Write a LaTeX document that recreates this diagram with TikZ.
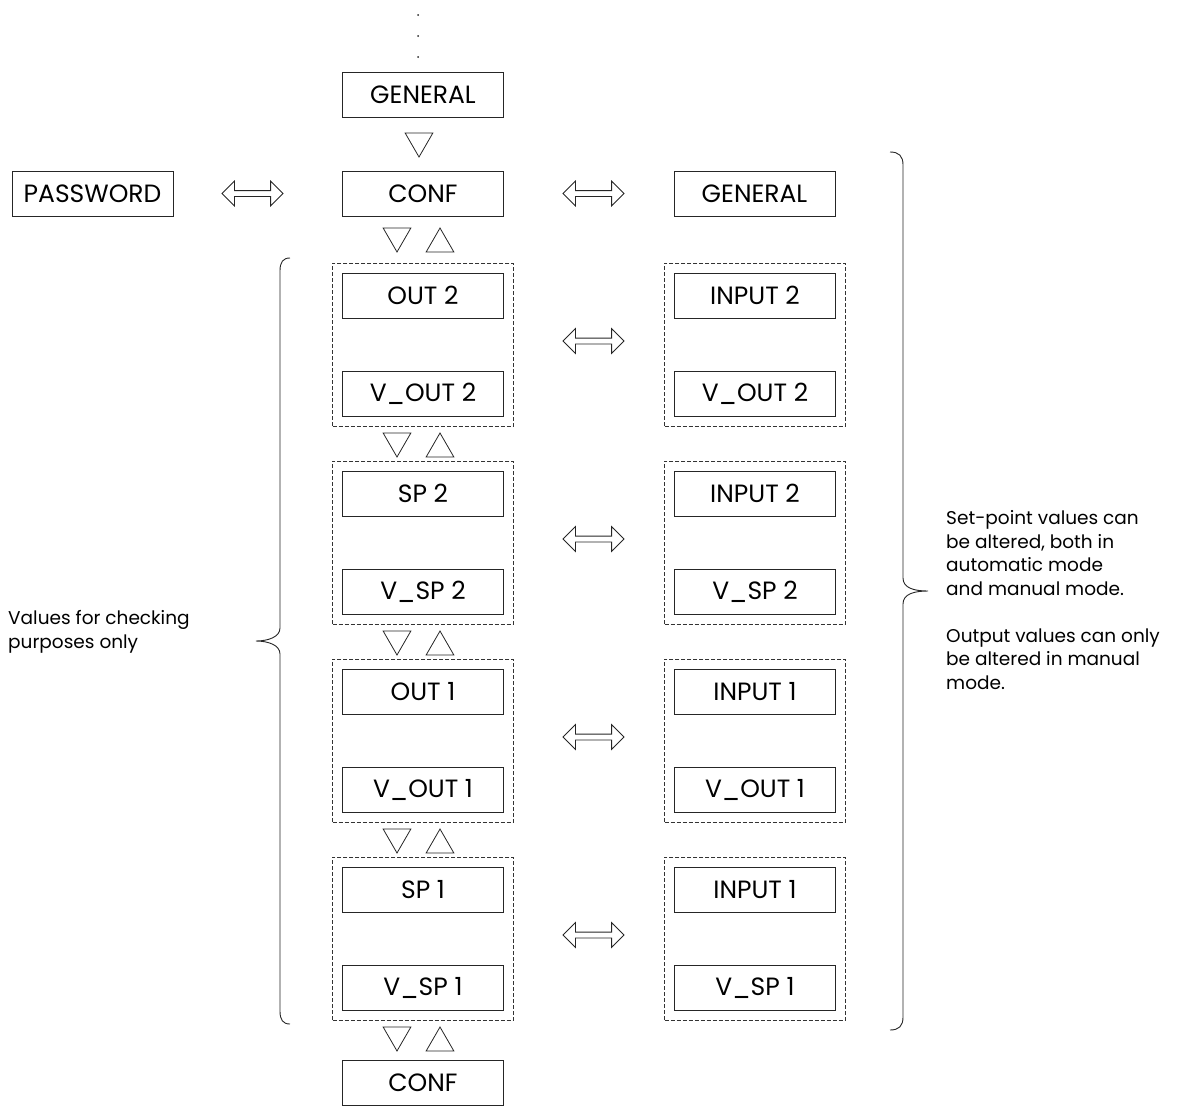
\documentclass[tikz,border=0pt]{standalone}
\usepackage{fontspec}
\setmainfont{Poppins}
\usetikzlibrary{shapes.geometric,shapes.arrows,fit}

\begin{document}
\begin{tikzpicture}[
  x=1pt,
  y=-1pt,
  screen/.style={draw=black!85, line width=0.9pt, minimum width=161pt, minimum height=45pt, inner sep=0pt, font=\fontsize{25}{29}\selectfont},
  group/.style={draw=black!80, line width=0.8pt, dash pattern=on 4pt off 2pt, inner sep=9.5pt},
  downtri/.style={regular polygon, regular polygon sides=3, shape border rotate=180, draw=black!85, line width=0.8pt, minimum size=32pt, inner sep=0pt},
  uptri/.style={regular polygon, regular polygon sides=3, draw=black!85, line width=0.8pt, minimum size=32pt, inner sep=0pt},
  swaparrow/.style={double arrow, draw=black!85, line width=0.8pt, minimum height=61pt, inner sep=2.5pt, double arrow head extend=9.5pt},
  dot/.style={circle, fill=black!85, inner sep=0pt, minimum size=2pt},
  note/.style={align=left, font=\fontsize{18.5}{23.5}\selectfont, inner sep=0pt},
  bracepath/.style={draw=black!85, line width=0.9pt}
]
\useasboundingbox (0,0) rectangle (1183,1106);

% top of the menu
\node[dot] (d1) at (418,15) {};
\node[dot] (d2) at (418,36) {};
\node[dot] (d3) at (418,57) {};
\node[screen] (gen) at (423,94.5) {GENERAL};
\node[downtri] (t0) at (419,141) {};
\node[screen] (conf) at (423,193.5) {CONF};
\node[screen] (pw) at (92.5,193.5) {PASSWORD};
\node[screen] (genr) at (754.5,193.5) {GENERAL};
\node[swaparrow] (a0) at (252.5,193.5) {};
\node[swaparrow] (a1) at (593.5,193.5) {};
\node[downtri] (t1d) at (397,236) {};
\node[uptri] (t1u) at (440,244) {};

% output 2
\node[screen] (out2) at (423,295.5) {OUT 2};
\node[screen] (vout2) at (423,393.5) {V\_OUT 2};
\node[group, fit=(out2)(vout2)] (g1) {};
\node[screen] (in2a) at (755,295.5) {INPUT 2};
\node[screen] (vin2a) at (755,393.5) {V\_OUT 2};
\node[group, fit=(in2a)(vin2a)] (h1) {};
\node[swaparrow] (s1) at (593.5,341) {};
\node[downtri] (t2d) at (397,441) {};
\node[uptri] (t2u) at (440,449) {};

% set-point 2
\node[screen] (sp2) at (423,493.5) {SP 2};
\node[screen] (vsp2) at (423,591.5) {V\_SP 2};
\node[group, fit=(sp2)(vsp2)] (g2) {};
\node[screen] (in2b) at (755,493.5) {INPUT 2};
\node[screen] (vin2b) at (755,591.5) {V\_SP 2};
\node[group, fit=(in2b)(vin2b)] (h2) {};
\node[swaparrow] (s2) at (593.5,539) {};
\node[downtri] (t3d) at (397,639) {};
\node[uptri] (t3u) at (440,647) {};

% output 1
\node[screen] (out1) at (423,691.5) {OUT 1};
\node[screen] (vout1) at (423,789.5) {V\_OUT 1};
\node[group, fit=(out1)(vout1)] (g3) {};
\node[screen] (in1a) at (755,691.5) {INPUT 1};
\node[screen] (vin1a) at (755,789.5) {V\_OUT 1};
\node[group, fit=(in1a)(vin1a)] (h3) {};
\node[swaparrow] (s3) at (593.5,737) {};
\node[downtri] (t4d) at (397,837) {};
\node[uptri] (t4u) at (440,845) {};

% set-point 1
\node[screen] (sp1) at (423,889.5) {SP 1};
\node[screen] (vsp1) at (423,987.5) {V\_SP 1};
\node[group, fit=(sp1)(vsp1)] (g4) {};
\node[screen] (in1b) at (755,889.5) {INPUT 1};
\node[screen] (vin1b) at (755,987.5) {V\_SP 1};
\node[group, fit=(in1b)(vin1b)] (h4) {};
\node[swaparrow] (s4) at (593.5,935) {};
\node[downtri] (t5d) at (397,1035) {};
\node[uptri] (t5u) at (440,1043) {};
\node[screen] (confb) at (423,1082.5) {CONF};

% braces and notes
\draw[bracepath] (290,258) .. controls (283,258) and (280,262) .. (280,271) -- (280,628)
  .. controls (280,637) and (268,641) .. (256,641) .. controls (268,641) and (280,645) .. (280,654)
  -- (280,1011) .. controls (280,1020) and (283,1024) .. (290,1024);
\draw[bracepath] (890,152) .. controls (899,152) and (903,156) .. (903,165) -- (903,578)
  .. controls (903,588) and (914,591) .. (928,591) .. controls (914,591) and (903,594) .. (903,604)
  -- (903,1017) .. controls (903,1026) and (899,1030) .. (890,1030);
\node[note, anchor=west] (chk) at (8,632) {Values for checking\\purposes only};
\node[note, anchor=west] (alt) at (946,600) {Set-point values can\\be altered, both in\\automatic mode\\and manual mode.\\[23.5pt]Output values can only\\be altered in manual\\mode.};
\end{tikzpicture}
\end{document}
